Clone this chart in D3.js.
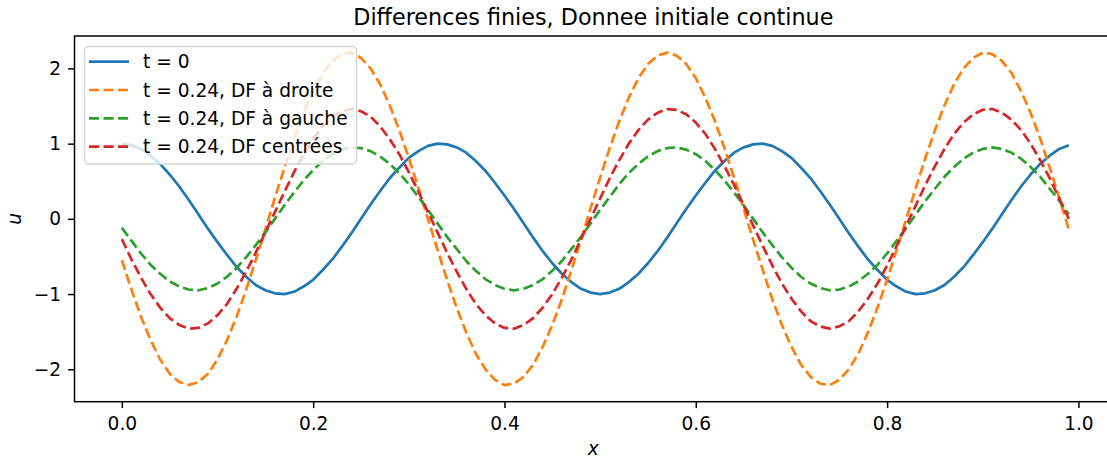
<!DOCTYPE html>
<html>
<head>
<meta charset="utf-8">
<title>Differences finies</title>
<script src="https://cdn.jsdelivr.net/npm/d3@7"></script>
<style>
  body { margin: 0; background: #fff; }
  svg { font-family: "DejaVu Sans", sans-serif; display: block; }
</style>
</head>
<body>
<script>
// grid x = 0, 0.01, ..., 0.99
const xs = d3.range(100).map(i => i / 100);

// t = 0
const u0 = [1.00,0.98,0.93,0.84,0.73,0.59,0.43,0.25,0.06,-0.13,
  -0.31,-0.48,-0.64,-0.77,-0.88,-0.95,-0.99,-1.00,-0.97,-0.90,
  -0.81,-0.68,-0.54,-0.37,-0.19,0.00,0.19,0.37,0.54,0.68,
  0.81,0.90,0.97,1.00,
  0.99,0.95,0.88,0.77,0.64,0.48,0.31,0.13,-0.06,-0.25,
  -0.43,-0.59,-0.73,-0.84,-0.93,-0.98,-1.00,-0.98,-0.93,-0.84,
  -0.73,-0.59,-0.43,-0.25,-0.06,0.13,0.31,0.48,0.64,0.77,
  0.88,0.95,0.99,
  1.00,0.97,0.90,0.81,0.68,0.54,0.37,0.19,0.00,-0.19,
  -0.37,-0.54,-0.68,-0.81,-0.90,-0.97,-1.00,-0.99,-0.95,-0.88,
  -0.77,-0.64,-0.48,-0.31,-0.13,0.06,0.25,0.43,0.59,0.73,
  0.84,0.93,0.98];

// t = 0.24, DF a droite
const uDroite = [-0.55,-0.94,-1.30,-1.61,-1.87,-2.06,-2.17,-2.21,-2.17,-2.06,
  -1.87,-1.61,-1.30,-0.94,-0.55,-0.14,0.28,0.68,1.07,1.41,
  1.70,1.94,2.10,2.19,
  2.21,2.14,2.00,1.79,1.51,1.18,0.81,0.41,0.00,-0.41,
  -0.81,-1.18,-1.51,-1.79,-2.00,-2.14,-2.21,-2.19,-2.10,-1.94,
  -1.70,-1.41,-1.07,-0.68,-0.28,0.14,0.55,0.94,1.30,1.61,
  1.87,2.06,2.17,
  2.21,2.17,2.06,1.87,1.61,1.30,0.94,0.55,0.14,-0.28,
  -0.68,-1.07,-1.41,-1.70,-1.94,-2.10,-2.19,-2.21,-2.14,-2.00,
  -1.79,-1.51,-1.18,-0.81,-0.41,0.00,0.41,0.81,1.18,1.51,
  1.79,2.00,2.14,
  2.21,2.19,2.10,1.94,1.70,1.41,1.07,0.68,0.28,-0.14];

// t = 0.24, DF a gauche
const uGauche = [-0.12,-0.29,-0.46,-0.61,-0.73,-0.83,-0.90,-0.94,-0.95,-0.92,
  -0.86,-0.77,-0.65,-0.51,-0.35,-0.18,0.00,0.18,0.35,0.51,
  0.65,0.77,0.86,0.92,0.95,
  0.94,0.90,0.83,0.73,0.61,0.46,0.29,0.12,-0.06,-0.24,
  -0.40,-0.56,-0.69,-0.80,-0.88,-0.93,-0.95,-0.93,-0.88,-0.80,
  -0.69,-0.56,-0.40,-0.24,-0.06,0.12,0.29,0.46,0.61,0.73,
  0.83,0.90,0.94,
  0.95,0.92,0.86,0.77,0.65,0.51,0.35,0.18,0.00,-0.18,
  -0.35,-0.51,-0.65,-0.77,-0.86,-0.92,-0.95,-0.94,-0.90,-0.83,
  -0.73,-0.61,-0.46,-0.29,-0.12,0.06,0.24,0.40,0.56,0.69,
  0.80,0.88,0.93,
  0.95,0.93,0.88,0.80,0.69,0.56,0.40,0.24,0.06];

// t = 0.24, DF centrees
const uCentre = [-0.27,-0.54,-0.78,-1.00,-1.18,-1.32,-1.41,-1.46,-1.45,-1.39,
  -1.28,-1.13,-0.93,-0.70,-0.45,-0.18,0.09,0.36,0.62,0.86,
  1.06,1.23,1.36,1.43,
  1.46,1.43,1.36,1.23,1.06,0.86,0.62,0.36,0.09,-0.18,
  -0.45,-0.70,-0.93,-1.13,-1.28,-1.39,-1.45,-1.46,-1.41,-1.32,
  -1.18,-1.00,-0.78,-0.54,-0.27,0.00,0.27,0.54,0.78,1.00,
  1.18,1.32,1.41,1.46,
  1.45,1.39,1.28,1.13,0.93,0.70,0.45,0.18,-0.09,-0.36,
  -0.62,-0.86,-1.06,-1.23,-1.36,-1.43,-1.46,-1.43,-1.36,-1.23,
  -1.06,-0.86,-0.62,-0.36,-0.09,0.18,0.45,0.70,0.93,1.13,
  1.28,1.39,1.45,
  1.46,1.41,1.32,1.18,1.00,0.78,0.54,0.27,0.00];

const labels = ["t = 0", "t = 0.24, DF à droite", "t = 0.24, DF à gauche", "t = 0.24, DF centrées"];
const colors = ["#1f77b4", "#ff7f0e", "#2ca02c", "#d62728"];
const xTicks = [0, 0.2, 0.4, 0.6, 0.8, 1.0];
const yTicks = [-2, -1, 0, 1, 2];

const series = [u0, uDroite, uGauche, uCentre];

const W = 1107, H = 460;
const plot = { left: 74.5, top: 36, right: 1116.2, bottom: 401.7 };
const fs = "18.6px";

const svg = d3.select("body").append("svg")
  .attr("width", W).attr("height", H);

// matplotlib-like 5% margins
const xExt = d3.extent(xs);
const xPad = (xExt[1] - xExt[0]) * 0.05;
const allY = series.flat();
const yExt = d3.extent(allY);
const yPad = (yExt[1] - yExt[0]) * 0.05;

const x = d3.scaleLinear().domain([xExt[0] - xPad, xExt[1] + xPad]).range([plot.left, plot.right]);
const y = d3.scaleLinear().domain([yExt[0] - yPad, yExt[1] + yPad]).range([plot.bottom, plot.top]);

// lines
const line = d3.line()
  .x(d => x(d[0]))
  .y(d => y(d[1]));

series.forEach(function(vals, i) {
  svg.append("path")
    .datum(xs.map((xv, j) => [xv, vals[j]]))
    .attr("d", line)
    .attr("fill", "none")
    .attr("stroke", colors[i])
    .attr("stroke-width", 2.7)
    .attr("stroke-dasharray", i == 0 ? null : "10.1,4.4")
    .attr("stroke-linejoin", "round");
});

// axes
const xAxis = d3.axisBottom(x).tickValues(xTicks).tickFormat(d3.format(".1f"))
  .tickSize(6.4).tickPadding(8.4).tickSizeOuter(0);
const gx = svg.append("g").attr("transform", "translate(0," + plot.bottom + ")").call(xAxis);

const yAxis = d3.axisLeft(y).tickValues(yTicks).tickFormat(d3.format("d"))
  .tickSize(6.4).tickPadding(7).tickSizeOuter(0);
const gy = svg.append("g").attr("transform", "translate(" + plot.left + ",0)").call(yAxis);

[gx, gy].forEach(function(g) {
  g.select(".domain").remove();
  g.selectAll(".tick line").attr("stroke", "#000").attr("stroke-width", 1.5);
  g.selectAll(".tick text").attr("fill", "#000").style("font-size", fs)
    .style("font-family", "DejaVu Sans");
});

// spines
svg.append("rect")
  .attr("x", plot.left).attr("y", plot.top)
  .attr("width", plot.right - plot.left).attr("height", plot.bottom - plot.top)
  .attr("fill", "none").attr("stroke", "#000").attr("stroke-width", 1.5);

// title and axis labels
svg.append("text")
  .attr("x", (plot.left + plot.right) / 2 - 2).attr("y", 25)
  .attr("text-anchor", "middle")
  .style("font-size", "22.3px")
  .text("Differences finies, Donnee initiale continue");

svg.append("text")
  .attr("x", (plot.left + plot.right) / 2 - 2).attr("y", 455)
  .attr("text-anchor", "middle")
  .style("font-size", fs).style("font-style", "italic")
  .text("x");

svg.append("text")
  .attr("transform", "translate(20.7," + ((plot.top + plot.bottom) / 2) + ") rotate(-90)")
  .attr("text-anchor", "middle")
  .style("font-size", fs).style("font-style", "italic")
  .text("u");

// legend
const leg = svg.append("g").attr("transform", "translate(84.5,46.5)");
leg.append("rect")
  .attr("width", 272).attr("height", 117.5).attr("rx", 4)
  .attr("fill", "#fff").attr("fill-opacity", 0.8)
  .attr("stroke", "#d6d6d6").attr("stroke-width", 1.5);

labels.forEach(function(lab, i) {
  const ry = 15.2 + i * 28.3;
  leg.append("line")
    .attr("x1", 4.5).attr("x2", 44.5).attr("y1", ry).attr("y2", ry)
    .attr("stroke", colors[i]).attr("stroke-width", 2.7)
    .attr("stroke-dasharray", i == 0 ? null : "10.1,4.4");
  leg.append("text")
    .attr("x", 58.5).attr("y", ry).attr("dy", "0.35em")
    .style("font-size", fs)
    .text(lab);
});
</script>
</body>
</html>
